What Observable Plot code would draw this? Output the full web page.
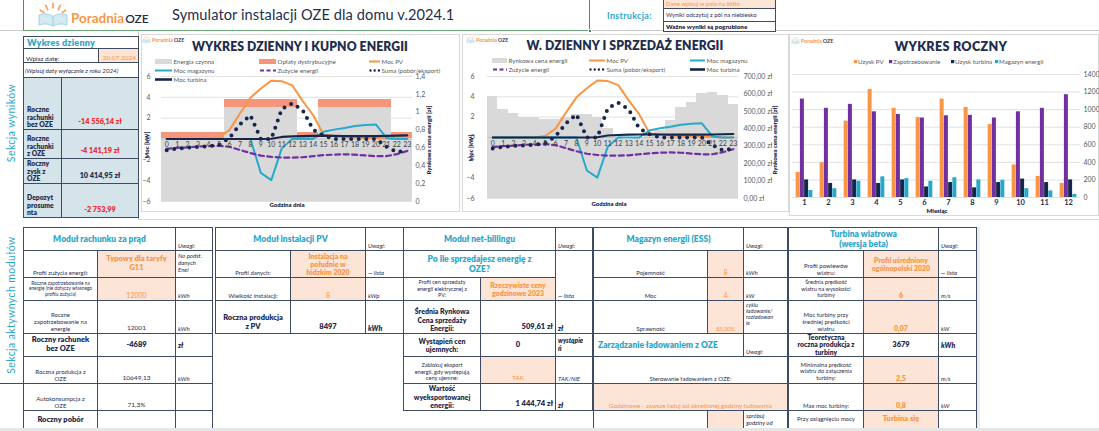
<!DOCTYPE html>
<html><head><meta charset="utf-8">
<script src="https://cdn.jsdelivr.net/npm/d3@7"></script>
<script src="https://cdn.jsdelivr.net/npm/@observablehq/plot@0.6"></script>
<style>
body{margin:0;background:#fff;font-family:Lato,"Open Sans",sans-serif;}
#root{position:relative;width:1099px;height:431px;overflow:hidden;background:#fff;}
</style></head>
<body><div id="root"></div>
<script>
// ---------------- DATA ----------------
const hours = [0,1,2,3,4,5,6,7,8,9,10,11,12,13,14,15,16,17,18,19,20,21,22,23];
// Chart 1 - right axis [zł]
const energiaCzynna = [0.71,0.71,0.71,0.71,0.71,0.71,1.055,1.055,1.055,1.055,1.055,1.055,1.055,0.71,0.71,1.055,1.055,1.055,1.055,1.055,1.055,1.055,0.71,0.71];
const oplatyDystr   = [0.068,0.068,0.068,0.068,0.068,0.068,0.082,0.082,0.082,0.082,0.082,0.082,0.082,0.068,0.068,0.082,0.082,0.082,0.082,0.082,0.082,0.082,0.068,0.068];
// Chart 2 - right axis [zł]
const cenaRynkowa = [585,509,485,462,462,452,455,465,481,481,462,400,360,340,345,365,390,446,523,551,605,611,591,542];
// Lines - left axis [kW]
const mocPV       = [0,0,0,0,0,0.15,0.85,2.45,3.95,4.85,5.6,5.55,5.15,3.65,2.3,0.4,0.3,0.2,0.15,0.1,0.1,0.05,0,0];
const mocMagazynu = [0,0,0,0,0,0,0,0,0,-3.25,-3.95,-0.9,0,0,0,0.7,0.9,1.05,1.25,1.35,1.4,0.1,0,0];
const zuzycie     = [-0.95,-0.85,-0.8,-0.72,-0.7,-0.65,-0.75,-1.05,-1.35,-1.6,-1.72,-1.78,-1.78,-1.75,-1.65,-1.55,-1.5,-1.47,-1.5,-1.58,-1.65,-1.65,-1.45,-1.15];
const suma        = [-1.07,-0.93,-0.83,-0.77,-0.7,-0.57,0.1,1.4,2.27,0,0,2.87,3.43,2.77,0.9,0.33,0,0,0,0,0,-0.73,-1.27,-1.07];
const mocTurbina  = [0,0,0,0,0,0,0,0,0,0,0.02,0.2,0.25,0.28,0.3,0.32,0.3,0.28,0.28,0.28,0.28,0.3,0.32,0.35];
const leftTicks = [-6,-4,-2,0,2,4,6];
const rightTicks1 = [0,0.2,0.4,0.6,0.8,1,1.2,1.4];
const rightTicks2 = [0,100,200,300,400,500,600,700];
// Chart 3
const months = [1,2,3,4,5,6,7,8,9,10,11,12];
const seriesNames = ["Uzysk PV","Zapotrzebowanie","Uzysk turbina","Magazyn energii"];
const uzyskPV         = [285,395,870,1230,1015,910,1120,1025,830,370,240,160];
const zapotrzebowanie = [1120,1015,1060,975,945,905,930,935,905,975,1015,1170];
const uzyskTurbina    = [200,160,200,160,200,120,170,110,170,210,170,200];
const magazynEnergii  = [80,100,185,235,215,185,225,200,195,100,75,35];
const annualTicks = [0,200,400,600,800,1000,1200,1400];

// ---------------- STYLE ----------------
const NAVY="#17264A", ORANGE="#F79646", TEAL="#26A9CB", PURPLE="#7030A0", GREY="#D9D9D9", SALMON="#F5967C";
const TXT="#1F2D4E", TEALT="#2FA8C8", PEACH="#FCE4D6", BORDER="#3E4B60", BLUE="#D5E3EA", RED="#EE2A2A", AX="#595959";

const root = document.getElementById('root');
function el(css, html){ const e=document.createElement('div'); e.style.cssText='position:absolute;'+css; if(html!=null) e.innerHTML=html; root.appendChild(e); return e; }
function box(x1,y1,x2,y2,css){ return el(`left:${x1}px;top:${y1}px;width:${x2-x1}px;height:${y2-y1}px;box-sizing:border-box;${css||''}`); }
function txt(x,y,html,css,anchor){ const tx = anchor==='c'?'-50%':anchor==='r'?'-100%':'0'; return el(`left:${x}px;top:${y}px;transform:translate(${tx},-50%);white-space:nowrap;${css||''}`, html); }
function vtxt(x,y,html,css){ return el(`left:${x}px;top:${y}px;transform:translate(-50%,-50%) rotate(-90deg);white-space:nowrap;${css||''}`, html); }
function cell(x1,y1,x2,y2,html,o={}){
  const ha=o.ha||'center', va=o.va||'flex-end';
  const jc = ha==='left'?'flex-start':ha==='right'?'flex-end':'center';
  const e = box(x1,y1,x2+1,y2+1,`border:1px solid ${BORDER};display:flex;align-items:${va};justify-content:${jc};text-align:${ha};padding:${o.pad||'1px 2px'};background:${o.bg||'#fff'};color:${o.color||TXT};font-size:${o.fs||6}px;font-weight:${o.bold?800:400};font-style:${o.it?'italic':'normal'};line-height:${o.lh||1.18};overflow:hidden;`);
  e.innerHTML = `<div>${html}</div>`;
  return e;
}
const logoIcon = (w,h) => `<svg width="${w}" height="${h}" viewBox="0 0 34 28"><g stroke="#F9A35A" stroke-width="1.8" stroke-linecap="round"><line x1="17" y1="1.5" x2="17" y2="6"/><line x1="9.5" y1="3.5" x2="11.5" y2="8"/><line x1="24.5" y1="3.5" x2="22.5" y2="8"/><line x1="4" y1="8.5" x2="7.5" y2="11"/><line x1="30" y1="8.5" x2="26.5" y2="11"/></g><path d="M17 15 Q10 10.5 2.5 13.5 L2.5 24 Q10 21 17 25 Q24 21 31.5 24 L31.5 13.5 Q24 10.5 17 15 Z" fill="#D4EAF3" stroke="#9CCDE2" stroke-width="0.9"/><line x1="17" y1="15" x2="17" y2="25" stroke="#9CCDE2" stroke-width="0.9"/></svg>`;
function smallLogo(x,y){ el(`left:${x}px;top:${y-5}px;display:flex;align-items:center;gap:1px;font-size:5.3px;white-space:nowrap`, `${logoIcon(9,8)}<span style="color:${ORANGE};font-weight:700">Poradnia</span><span style="color:${TXT};font-weight:600">OZE</span>`); }
function legend(x,y,type,color,label,sw=16){
  let s='';
  if(type==='rect') s=`<rect x="0" y="2" width="${sw}" height="5" fill="${color}"/>`;
  if(type==='line') s=`<line x1="0" x2="${sw}" y1="4.5" y2="4.5" stroke="${color}" stroke-width="2"/>`;
  if(type==='thick') s=`<line x1="0" x2="${sw}" y1="4.5" y2="4.5" stroke="${color}" stroke-width="2.6"/>`;
  if(type==='dash') s=`<line x1="1" x2="${sw}" y1="4.5" y2="4.5" stroke="${color}" stroke-width="2.2" stroke-dasharray="4,2.5"/>`;
  if(type==='dot') s=`<line x1="1.5" x2="${sw}" y1="4.5" y2="4.5" stroke="${color}" stroke-width="2.4" stroke-dasharray="0,4.2" stroke-linecap="round"/>`;
  if(type==='sq') s=`<rect x="0" y="3" width="3.2" height="3.2" fill="${color}"/>`;
  const w = type==='sq'?3.5:sw;
  el(`left:${x}px;top:${y-4.5}px;display:flex;align-items:center;gap:${type==='sq'?0.5:1.5}px;font-size:6.2px;color:${AX};white-space:nowrap;line-height:9px`, `<svg width="${w}" height="9" style="overflow:visible">${s}</svg><span>${label}</span>`);
}

// ---------------- HEADER ----------------
box(0,30,1099,31.2,`background:#c8c8c8`);
box(23,0,24.4,31,`background:#4E8F5F`);
box(589,0,590.4,31,`background:#4E8F5F`);
box(23,30,590,31.4,`background:#6AA57A`);
box(588,29,592,33,`background:#3F7F50;border:1px solid #fff`);
el(`left:36px;top:2px`, logoIcon(34,27));
txt(71,16,`<span style="color:${ORANGE};font-weight:700;font-size:13.5px">Poradnia</span><span style="color:${TXT};font-weight:600;font-size:12px;margin-left:1px">OZE</span>`,'');
txt(172,14,'Symulator instalacji OZE dla domu v.2024.1',`font-size:14.6px;color:${TXT};letter-spacing:0.1px`);
txt(607,15,'Instrukcja:',`font-size:9px;color:${TEALT};font-weight:700;letter-spacing:0.3px`);
cell(663,-2,775,8,'Dane wpisuj w pola na żółto',{bg:PEACH,color:ORANGE,ha:'left',fs:6,va:'center',pad:'0 2px'});
cell(663,8,775,21,'Wyniki odczytuj z pól na niebiesko',{ha:'left',fs:6,va:'center',pad:'0 2px'});
cell(663,21,775,31,'Ważne wyniki są pogrubione',{ha:'left',fs:6.3,bold:true,va:'center',pad:'0 2px'});

// ---------------- LEFT RESULTS PANEL ----------------
vtxt(11,123,'Sekcja wyników',`font-size:10.5px;color:${TEALT};letter-spacing:0.4px`);
box(138,31,139,220,`background:#c8c8c8`);
box(23,36,139,217,`border:1px solid ${BORDER};background:#fff`);
box(23,48,139,49,`background:${BORDER}`);
box(23,62,139,63,`background:${BORDER}`);
txt(27,42,'Wykres dzienny',`font-size:9px;color:${TEALT};font-weight:800;letter-spacing:0.2px`);
txt(26,58,'Wpisz datę:',`font-size:6.5px;color:${TXT}`);
box(98,48,139,63,`background:${PEACH};border:1px solid ${BORDER}`);
txt(136,57,'20.07.2024',`font-size:6.5px;color:${ORANGE}`,'r');
txt(25,70,'(Wpisuj daty wyłącznie z roku 2024)',`font-size:6.2px;color:${TXT};font-style:italic`);
const resRows = [[77,129,'Roczne<br>rachunki<br>bez OZE','-14 556,14 zł',RED],[129,158,'Roczne<br>rachunki<br>z OZE','-4 141,19 zł',RED],[158,183,'Roczny<br>zysk z<br>OZE','10 414,95 zł',TXT],[183,217,'Depozyt<br>prosume<br>nta','-2 753,99',RED]];
resRows.forEach(r=>{
  cell(23,r[0],61,r[1],r[2],{bg:BLUE,bold:true,fs:6.8,ha:'left',lh:1.13,pad:'0 3px 0 3px'});
  cell(61,r[0],138,r[1],r[3],{bg:BLUE,bold:true,fs:7.3,color:r[4],pad:'1px 2px 2px 2px'});
});

// ---------------- DAILY CHARTS ----------------
function dailyChart(o){
  const toL = v => -6 + 12*v/o.rMax;
  const fromL = y => (y+6)/12*o.rMax;
  const rows = hours.map((h,i)=>({h,pv:mocPV[i],mag:mocMagazynu[i],zu:zuzycie[i],suma:suma[i],turb:mocTurbina[i]}));
  return Plot.plot({
    width:o.W, height:o.H, marginLeft:o.ml, marginRight:o.mr, marginTop:o.mt, marginBottom:o.mb,
    style:{fontFamily:"Lato, sans-serif", fontSize:"7px", color:AX, background:"transparent", overflow:"visible"},
    x:{domain:[-0.5,23.5], axis:null},
    y:{domain:[-6,6], axis:null},
    marks:[
      Plot.ruleY(leftTicks, {stroke:GREY, strokeWidth:0.8}),
      ...o.bars(toL),
      Plot.ruleY([0], {stroke:"#bfbfbf", strokeWidth:0.8}),
      Plot.line(rows, {x:"h", y:"pv", stroke:ORANGE, strokeWidth:2}),
      Plot.line(rows, {x:"h", y:"mag", stroke:TEAL, strokeWidth:2}),
      Plot.line(rows, {x:"h", y:"zu", stroke:PURPLE, strokeWidth:2.2, strokeDasharray:"5,3.5"}),
      Plot.line(rows, {x:"h", y:"suma", stroke:NAVY, strokeWidth:4, strokeDasharray:"0,7.6", strokeLinecap:"round"}),
      Plot.line(rows, {x:"h", y:"turb", stroke:NAVY, strokeWidth:2.1}),
      Plot.text(hours, {x:d=>d, y:()=>0, text:d=>String(d), dy:6, fontSize:7, fill:"#404040"}),
      Plot.axisY(leftTicks, {anchor:"left", tickSize:0, tickPadding:o.lpad, label:null, fontSize:7, color:AX}),
      Plot.axisY(o.rTicks.map(toL), {anchor:"right", tickSize:0, tickPadding:o.rpad, label:null, fontSize:7, color:AX,
        tickFormat: y => o.rFmt(Math.round(fromL(y)*1000)/1000)})
    ]
  });
}
function placeChart(svg,x,y){ const d=el(`left:${x}px;top:${y}px`); d.appendChild(svg); }

// Chart 1
box(141,34,460,212,`border:1px solid #d9d9d9;background:#fff`);
placeChart(dailyChart({
  W:319,H:176,ml:20,mr:48,mt:41,mb:10,rMax:1.4,rTicks:rightTicks1,lpad:11,rpad:3,
  rFmt: v => String(v).replace('.',','),
  bars: toL => {
    const r = hours.map((h,i)=>({h,c:energiaCzynna[i],o:oplatyDystr[i]}));
    return [
      Plot.rect(r, {x1:d=>d.h-0.5, x2:d=>d.h+0.5, y1:()=>-6, y2:d=>toL(d.c), fill:GREY, shapeRendering:"crispEdges"}),
      Plot.rect(r, {x1:d=>d.h-0.5, x2:d=>d.h+0.5, y1:d=>toL(d.c), y2:d=>toL(d.c+d.o), fill:SALMON, shapeRendering:"crispEdges"})
    ];
  }
}),141,35);
smallLogo(142,41);
txt(300,46,'WYKRES DZIENNY I KUPNO ENERGII',`font-size:12.2px;font-weight:800;color:${TXT};letter-spacing:0.1px`,'c');
legend(155,61,'rect',GREY,'Energia czynna',17);
legend(259,61,'rect',SALMON,'Opłaty dystrybucyjne',17);
legend(369,61,'line',ORANGE,'Moc PV',11);
legend(155,70,'line',TEAL,'Moc magazynu',17);
legend(259,70,'dash',PURPLE,'Zużycie energii',17);
legend(369,70,'dot',NAVY,'Suma (pobór/eksport)',11);
legend(155,79,'thick',NAVY,'Moc turbina',17);
vtxt(146,145,'Moc [kW]',`font-size:6px;font-weight:800;color:${TXT}`);
vtxt(428,140,'Rynkowa cena energii [zł]',`font-size:6px;font-weight:800;color:${TXT}`);
txt(287,204,'Godzina dnia',`font-size:6px;font-weight:800;color:${TXT}`,'c');

// Chart 2
box(462,34,789,212,`border:1px solid #d9d9d9;background:#fff`);
placeChart(dailyChart({
  W:327,H:176,ml:25,mr:51,mt:41,mb:13,rMax:700,rTicks:rightTicks2,lpad:13,rpad:5,
  rFmt: v => v.toFixed(2).replace('.',',')+' zł',
  bars: toL => {
    const r = hours.map((h,i)=>({h,c:cenaRynkowa[i]}));
    return [Plot.rect(r, {x1:d=>d.h-0.5, x2:d=>d.h+0.5, y1:()=>-6, y2:d=>toL(d.c), fill:GREY, shapeRendering:"crispEdges"})];
  }
}),462,35);
smallLogo(466,41);
txt(625,45,'W. DZIENNY I SPRZEDAŻ ENERGII',`font-size:12.2px;font-weight:800;color:${TXT};letter-spacing:0.1px`,'c');
legend(492,60,'rect',GREY,'Rynkowa cena energii',15);
legend(589,60,'line',ORANGE,'Moc PV',16);
legend(690,60,'line',TEAL,'Moc magazynu',15);
legend(492,69,'dash',PURPLE,'Zużycie energii',15);
legend(589,69,'dot',NAVY,'Suma (pobór/eksport)',16);
legend(690,69,'thick',NAVY,'Moc turbina',15);
vtxt(470,148,'Moc [kW]',`font-size:6px;font-weight:800;color:${TXT}`);
vtxt(774,140,'Rynkowa cena energii [zł]',`font-size:6px;font-weight:800;color:${TXT}`);
txt(609,203,'Godzina dnia',`font-size:6px;font-weight:800;color:${TXT}`,'c');

// Chart 3
box(789,34,1099,216,`border:1px solid #d9d9d9;background:#fff`);
const OFF = {"Uzysk PV":-0.265,"Zapotrzebowanie":-0.088,"Uzysk turbina":0.088,"Magazyn energii":0.265};
const annual = months.flatMap((m,i)=>[
  {m,s:"Uzysk PV",v:uzyskPV[i]},
  {m,s:"Zapotrzebowanie",v:zapotrzebowanie[i]},
  {m,s:"Uzysk turbina",v:uzyskTurbina[i]},
  {m,s:"Magazyn energii",v:magazynEnergii[i]}]);
placeChart(Plot.plot({
  width:310, height:180, marginLeft:3, marginRight:19, marginTop:39, marginBottom:18,
  style:{fontFamily:"Lato, sans-serif", fontSize:"7px", color:AX, background:"transparent", overflow:"visible"},
  x:{domain:[0.5,12.5], axis:null},
  y:{domain:[0,1400], axis:null},
  color:{domain:seriesNames, range:[ORANGE,PURPLE,NAVY,TEAL]},
  marks:[
    Plot.ruleY(annualTicks, {stroke:GREY, strokeWidth:0.8}),
    Plot.rect(annual, {x1:d=>d.m+OFF[d.s]-0.083, x2:d=>d.m+OFF[d.s]+0.083, y1:()=>0, y2:"v", fill:"s"}),
    Plot.axisY(annualTicks, {anchor:"right", tickSize:0, tickPadding:3, label:null, fontSize:7, color:AX, tickFormat:d=>String(d)}),
    Plot.text(months, {x:d=>d, frameAnchor:"bottom", dy:7, text:d=>String(d), fontSize:7.5, fontWeight:"bold", fill:TXT})
  ]
}),789,35);
smallLogo(791,42);
txt(951,46,'WYKRES ROCZNY',`font-size:12.6px;font-weight:800;color:${TXT};letter-spacing:0.3px`,'c');
legend(854,61,'sq',ORANGE,'Uzysk PV');
legend(889,61,'sq',PURPLE,'Zapotrzebowanie');
legend(951,61,'sq',NAVY,'Uzysk turbina');
legend(995,61,'sq',TEAL,'Magazyn energii');
txt(937,210,'Miesiąc',`font-size:6px;font-weight:800;color:${TXT}`,'c');

// ---------------- MODULES SECTION ----------------
box(139,219,1099,220,`background:#d6d6d6`);
vtxt(11,305,'Sekcja aktywnych modułów',`font-size:10.5px;color:${TEALT};letter-spacing:0.4px`);
box(23,227,24,431,`background:${BORDER}`);
box(0,383,24,384,`background:${BORDER}`);
const H={fs:8.5,bold:true,color:TEALT,va:'center'};
const U={it:true,ha:'left',fs:6};
const P={bg:PEACH,color:ORANGE,bold:true,fs:7,va:'center'};
const PV={bg:PEACH,color:ORANGE,fs:7};
// T1
cell(23,227,175,250,'Moduł rachunku za prąd',H);
cell(175,227,212,250,'Uwagi:',U);
cell(23,250,97,277,'Profil zużycia energii:',{fs:6});
cell(97,250,175,277,'Typowy dla taryfy<br>G11',{...P,fs:7.5});
cell(175,250,212,277,'No podst.<br>danych<br>Enei',{...U,va:'flex-start'});
cell(23,277,97,300,'Roczne zapotrzebowanie na energię (nie dotyczy własnego profilu zużycia)',{fs:4.8,va:'center'});
cell(97,277,175,300,'12000',PV);
cell(175,277,212,300,'kWh',U);
cell(23,300,97,333,'Roczne<br>zapotrzebowanie na<br>energię',{fs:6});
cell(97,300,175,333,'12001',{fs:6.5});
cell(175,300,212,333,'kWh',U);
cell(23,333,97,356,'Roczny rachunek<br>bez OZE',{bold:true,fs:7.5,va:'center'});
cell(97,333,175,356,'-4689',{bold:true,fs:7.5,va:'center'});
cell(175,333,212,356,'zł',{...U,bold:true,va:'center',fs:7});
cell(23,356,97,383,'Roczna produkcja z<br>OZE',{fs:6});
cell(97,356,175,383,'10649,13',{fs:6.5});
cell(175,356,212,383,'kWh',U);
cell(23,383,97,410,'Autokonsumpcja z<br>OZE',{fs:6});
cell(97,383,175,410,'71,3%',{fs:6.5});
cell(175,383,212,410,'',{});
cell(23,410,97,445,'Roczny pobór',{bold:true,fs:7.5,va:'flex-start',pad:'5px 2px'});
cell(97,410,175,445,'',{});
cell(175,410,212,445,'',{});
// T2
cell(215,227,365,250,'Moduł instalacji PV',H);
cell(365,227,403,250,'Uwagi:',U);
cell(215,250,290,277,'Profil danych:',{fs:6});
cell(290,250,365,277,'Instalacja na<br>południe w<br>łódzkim 2020',P);
cell(365,250,403,277,'— lista',U);
cell(215,277,290,300,'Wielkość instalacji:',{fs:6});
cell(290,277,365,300,'8',PV);
cell(365,277,403,300,'kWp',U);
cell(215,300,290,333,'Roczna produkcja<br>z PV',{bold:true,fs:7.5});
cell(290,300,365,333,'8497',{bold:true,fs:7.5});
cell(365,300,403,333,'kWh',{...U,bold:true,fs:7});
// T3
cell(403,227,555,250,'Moduł net-billingu',H);
cell(555,227,592,250,'Uwagi:',U);
cell(403,250,555,277,'Po ile sprzedajesz energię z<br>OZE?',H);
cell(555,250,592,300,'— lista',U);
cell(403,277,480,300,'Profil cen sprzedaży<br>energii elektrycznej z<br>PV:',{fs:5.4,va:'center'});
cell(480,277,555,300,'Rzeczywiste ceny<br>godzinowe 2023',P);
cell(403,300,480,333,'Średnia Rynkowa<br>Cena sprzedaży<br>Energii:',{bold:true,fs:7});
cell(480,300,555,333,'509,61 zł',{bold:true,fs:7.5,ha:'right'});
cell(555,300,592,333,'zł',{...U,bold:true,fs:7});
cell(403,333,480,356,'Wystąpień cen<br>ujemnych:',{bold:true,fs:7,va:'center'});
cell(480,333,555,356,'0',{bold:true,fs:7.5,va:'center'});
cell(555,333,592,356,'wystąpie<br>ń',{...U,bold:true,fs:6.5,va:'center'});
cell(403,356,480,383,'Zablokuj eksport<br>energii, gdy występują<br>ceny ujemne:',{fs:5.6});
cell(480,356,555,383,'TAK',{...PV,fs:6.5});
cell(555,356,592,383,'TAK/NIE',U);
cell(403,383,480,410,'Wartość<br>wyeksportowanej<br>energii:',{bold:true,fs:7});
cell(480,383,555,410,'1 444,74 zł',{bold:true,fs:7.5,ha:'right'});
cell(555,383,592,410,'zł',{...U,bold:true,fs:7});
// T4
cell(593,227,743,250,'Magazyn energii (ESS)',H);
cell(743,227,787,250,'Uwagi:',U);
cell(593,250,707,277,'Pojemność',{fs:6});
cell(707,250,743,277,'8',PV);
cell(743,250,787,277,'kWh',U);
cell(593,277,707,300,'Moc',{fs:6});
cell(707,277,743,300,'4',PV);
cell(743,277,787,300,'kW',U);
cell(593,300,707,333,'Sprawność',{fs:6});
cell(707,300,743,333,'85,00%',{...PV,fs:5.5});
cell(743,300,787,333,'cyklu<br>ładowanie/<br>rozładowan<br>ie',{...U,fs:5.6,va:'flex-start',lh:1.1});
cell(593,333,743,356,'Zarządzanie ładowaniem z OZE',{...H,ha:'left',pad:'1px 4px'});
cell(743,333,787,356,'Uwagi:',U);
cell(593,356,787,383,'Sterowanie ładowaniem z OZE:',{fs:6});
cell(593,383,787,410,'Godzinowe - zawsze ładuj od określonej godziny ładowania',{...PV,fs:6.3});
cell(593,410,707,445,'',{});
cell(707,410,743,445,'',{bg:PEACH});
cell(743,410,787,445,'spróbuj<br>godziny od',{...U,va:'flex-start'});
// T5
cell(788,227,938,250,'Turbina wiatrowa<br>(wersja beta)',H);
cell(938,227,976,250,'Uwagi:',U);
cell(788,250,863,277,'Profil powiewów<br>wiatru:',{fs:6});
cell(863,250,938,277,'Profil uśredniony<br>ogólnopolski 2020',P);
cell(938,250,976,277,'— lista',U);
cell(788,277,863,300,'Średnia prędkość<br>wiatru na wysokości<br>turbiny',{fs:5.6,va:'center'});
cell(863,277,938,300,'6',{...PV,bold:true});
cell(938,277,976,300,'m/s',U);
cell(788,300,863,333,'Moc turbiny przy<br>średniej prędkości<br>wiatru',{fs:6});
cell(863,300,938,333,'0,07',{...PV,bold:true});
cell(938,300,976,333,'kW',U);
cell(788,333,863,356,'Teoretyczna<br>roczna produkcja z<br>turbiny',{bold:true,fs:6.8,va:'center',lh:1.05});
cell(863,333,938,356,'3679',{bold:true,fs:7.5,va:'center'});
cell(938,333,976,356,'kWh',{...U,bold:true,fs:7,va:'center'});
cell(788,356,863,383,'Minimalna prędkość<br>wiatru do załączenia<br>turbiny:',{fs:5.8});
cell(863,356,938,383,'2,5',{...PV,bold:true});
cell(938,356,976,383,'m/s',U);
cell(788,383,863,410,'Max moc turbiny:',{fs:6});
cell(863,383,938,410,'0,8',{...PV,bold:true});
cell(938,383,976,410,'kW',U);
cell(788,410,863,445,'Przy osiągnięciu mocy',{fs:6,va:'flex-start',pad:'4px 2px'});
cell(863,410,938,445,'Turbina się',{...P,fs:7.5,va:'flex-start',pad:'4px 2px'});
cell(938,410,976,445,'',{});
box(977,227,980,431,`background:#ececec`);
box(0,428,1099,431,`background:#e6e6e6`);
</script>
</body></html>
